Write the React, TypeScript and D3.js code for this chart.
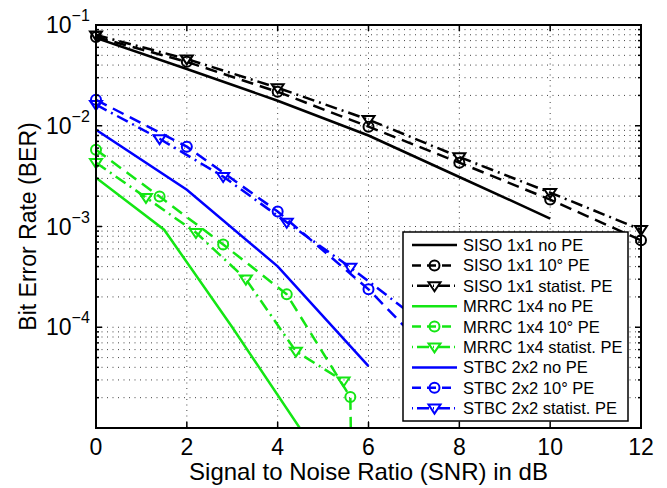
import * as d3 from "d3";

// SNR (dB) and BER values
const sisoNoPeSnr = [0, 2, 4, 6, 8, 10];
const sisoNoPeBer = [0.0743, 0.0366, 0.0177, 0.008, 0.0031, 0.0012];
const sisoPe10Snr = [0, 2, 4, 6, 8, 10, 12];
const sisoPe10Ber = [0.076, 0.0431, 0.0217, 0.0098, 0.0043, 0.00185, 0.00073];
const sisoStatSnr = [0, 2, 4, 6, 8, 10, 12];
const sisoStatBer = [0.0796, 0.046, 0.0238, 0.0115, 0.0049, 0.00217, 0.00093];

const mrrcNoPeSnr = [0, 1.5, 3, 4.5];
const mrrcNoPeBer = [0.00305, 0.00093, 0.0001, 0.0000098];
const mrrcPe10Snr = [0, 1.4, 2.8, 4.2, 5.6, 5.62];
const mrrcPe10Ber = [0.00578, 0.00198, 0.000664, 0.000212, 0.0000203, 0.000005];
const mrrcStatSnr = [0, 1.1, 2.2, 3.3, 4.4, 5.45];
const mrrcStatBer = [0.0043, 0.00194, 0.00087, 0.0003, 0.0000578, 0.0000292];

const stbcNoPeSnr = [0, 2, 4, 6];
const stbcNoPeBer = [0.00912, 0.00232, 0.000402, 0.0000411];
const stbcPe10Snr = [0, 2, 4, 6, 8];
const stbcPe10Ber = [0.0181, 0.0062, 0.00141, 0.000238, 0.0000279];
const stbcStatSnr = [0, 1.4, 2.8, 4.2, 5.6, 7.0];
const stbcStatBer = [0.0162, 0.00743, 0.00313, 0.0011, 0.000393, 0.000129];

const xTicks = [0, 2, 4, 6, 8, 10, 12];
const yDecades = [1e-5, 1e-4, 1e-3, 1e-2, 1e-1];
const yTickLabels = ["", "\u22124", "\u22123", "\u22122", "\u22121"];

const BLACK = "#000000";
const GREEN = "#14e614";
const BLUE = "#0000ff";

const series = [
  { name: "SISO 1x1 no PE", snr: sisoNoPeSnr, ber: sisoNoPeBer, color: BLACK, dash: "", marker: "" },
  { name: "SISO 1x1 10\u00b0 PE", snr: sisoPe10Snr, ber: sisoPe10Ber, color: BLACK, dash: "12,7", marker: "o" },
  { name: "SISO 1x1 statist. PE", snr: sisoStatSnr, ber: sisoStatBer, color: BLACK, dash: "12,5,2,5", marker: "v" },
  { name: "MRRC 1x4 no PE", snr: mrrcNoPeSnr, ber: mrrcNoPeBer, color: GREEN, dash: "", marker: "" },
  { name: "MRRC 1x4 10\u00b0 PE", snr: mrrcPe10Snr, ber: mrrcPe10Ber, color: GREEN, dash: "12,7", marker: "o" },
  { name: "MRRC 1x4 statist. PE", snr: mrrcStatSnr, ber: mrrcStatBer, color: GREEN, dash: "12,5,2,5", marker: "v" },
  { name: "STBC 2x2 no PE", snr: stbcNoPeSnr, ber: stbcNoPeBer, color: BLUE, dash: "", marker: "" },
  { name: "STBC 2x2 10\u00b0 PE", snr: stbcPe10Snr, ber: stbcPe10Ber, color: BLUE, dash: "12,7", marker: "o" },
  { name: "STBC 2x2 statist. PE", snr: stbcStatSnr, ber: stbcStatBer, color: BLUE, dash: "12,5,2,5", marker: "v" },
];

const W = 667;
const H = 488;
const L = 96, R = 641, T = 25, B = 428;
const FONT = "'Liberation Sans', Arial, Helvetica, sans-serif";

function Marker({ type, cx, cy, color }: { type: string; cx: number; cy: number; color: string }) {
  if (type === "o") {
    return <circle cx={cx} cy={cy} r={5} fill="none" stroke={color} strokeWidth={2} />;
  }
  if (type === "v") {
    const s = 6;
    const p = `M${cx - s},${cy - s * 0.6} L${cx + s},${cy - s * 0.6} L${cx},${cy + s * 0.9} Z`;
    return <path d={p} fill="none" stroke={color} strokeWidth={2} />;
  }
  return null;
}

export default function App() {
  const x = d3.scaleLinear().domain([0, 12]).range([L, R]);
  const y = d3.scaleLog().domain([1e-5, 1e-1]).range([B, T]);

  const line = d3
    .line<[number, number]>()
    .x((d) => x(d[0]))
    .y((d) => y(d[1]));

  const minor: number[] = [];
  for (let e = -5; e < -1; e++) {
    for (let m = 2; m <= 9; m++) minor.push(m * Math.pow(10, e));
  }

  const legX = 403, legY = 232, legW = 225, legH = 189;
  const rowY0 = 245, rowStep = 20.4;

  return (
    <svg width={W} height={H} style={{ position: "absolute", left: 0, top: 0, background: "#fff" }} fontFamily={FONT}>
      <defs>
        <clipPath id="plot">
          <rect x={L} y={T} width={R - L} height={B - T} />
        </clipPath>
      </defs>
      <rect x={0} y={0} width={W} height={H} fill="#fff" />

      {/* grid */}
      <g stroke="#444" strokeWidth={1} strokeDasharray="1,4.5" fill="none">
        {xTicks.slice(1, -1).map((t) => (
          <line key={"gx" + t} x1={x(t)} x2={x(t)} y1={T} y2={B} />
        ))}
        {yDecades.slice(1, -1).concat(minor).map((t) => (
          <line key={"gy" + t} x1={L} x2={R} y1={y(t)} y2={y(t)} />
        ))}
      </g>

      {/* data lines */}
      <g clipPath="url(#plot)" fill="none">
        {series.map((s) => (
          <path
            key={s.name}
            d={line(s.snr.map((v, i) => [v, s.ber[i]] as [number, number])) || ""}
            stroke={s.color}
            strokeWidth={2.5}
            strokeDasharray={s.dash || undefined}
          />
        ))}
      </g>
      {/* markers */}
      <g>
        {series.map((s) =>
          s.marker
            ? s.snr.map((v, i) =>
                s.ber[i] >= 1e-5 ? (
                  <Marker key={s.name + i} type={s.marker} cx={x(v)} cy={y(s.ber[i])} color={s.color} />
                ) : null
              )
            : null
        )}
      </g>

      {/* axes box and ticks */}
      <rect x={L} y={T} width={R - L} height={B - T} fill="none" stroke="#000" strokeWidth={2} />
      <g stroke="#000" strokeWidth={1.5}>
        {xTicks.map((t) => (
          <g key={"xt" + t}>
            <line x1={x(t)} x2={x(t)} y1={B} y2={B - 6} />
            <line x1={x(t)} x2={x(t)} y1={T} y2={T + 6} />
          </g>
        ))}
        {yDecades.map((t) => (
          <g key={"yt" + t}>
            <line x1={L} x2={L + 6} y1={y(t)} y2={y(t)} />
            <line x1={R} x2={R - 6} y1={y(t)} y2={y(t)} />
          </g>
        ))}
        {minor.map((t) => (
          <g key={"ym" + t}>
            <line x1={L} x2={L + 3} y1={y(t)} y2={y(t)} />
            <line x1={R} x2={R - 3} y1={y(t)} y2={y(t)} />
          </g>
        ))}
      </g>

      {/* tick labels */}
      <g fontSize={23} fill="#000">
        {xTicks.map((t) => (
          <text key={"xl" + t} x={x(t)} y={455} textAnchor="middle">
            {t}
          </text>
        ))}
        {yDecades.map((t, i) =>
          yTickLabels[i] ? (
            <text key={"yl" + t} x={46} y={y(t) + 8}>
              10
              <tspan dy={-12} fontSize={16}>
                {yTickLabels[i]}
              </tspan>
            </text>
          ) : null
        )}
      </g>

      {/* axis titles */}
      <text x={(L + R) / 2} y={480} textAnchor="middle" fontSize={24}>
        Signal to Noise Ratio (SNR) in dB
      </text>
      <text transform={`translate(36,${(T + B) / 2}) rotate(-90)`} textAnchor="middle" fontSize={23}>
        Bit Error Rate (BER)
      </text>

      {/* legend */}
      <rect x={legX} y={legY} width={legW} height={legH} fill="#fff" stroke="#000" strokeWidth={1.5} />
      {series.map((s, i) => {
        const ry = rowY0 + i * rowStep;
        return (
          <g key={"lg" + s.name}>
            <line
              x1={412}
              x2={457}
              y1={ry}
              y2={ry}
              stroke={s.color}
              strokeWidth={2.5}
              strokeDasharray={s.marker === "o" ? "9,6" : s.marker === "v" ? "1,4,12,4" : undefined}
            />
            {s.marker ? <Marker type={s.marker} cx={434.5} cy={ry} color={s.color} /> : null}
            <text x={463} y={ry} dominantBaseline="central" fontSize={16.5}>
              {s.name}
            </text>
          </g>
        );
      })}
    </svg>
  );
}
